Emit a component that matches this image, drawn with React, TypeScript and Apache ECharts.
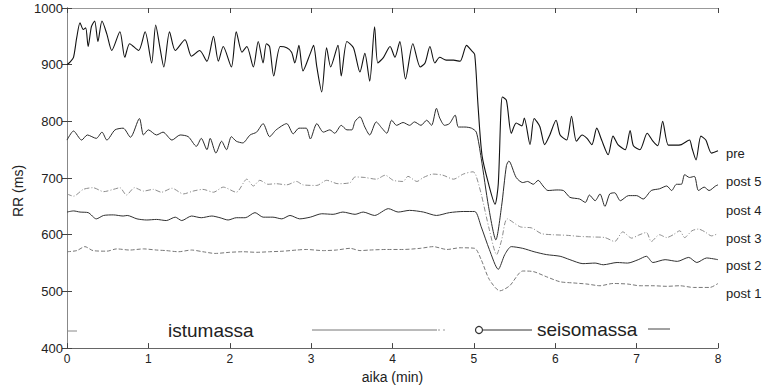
import React, { useEffect, useRef } from "react";
import * as echarts from "echarts";

// time (min) / RR (ms) pairs
const pre: number[][] = [
  [0, 900], [0.04, 905], [0.08, 913], [0.12, 948], [0.16, 974], [0.2, 962], [0.23, 965], [0.26, 932],
  [0.3, 967], [0.34, 977], [0.38, 941], [0.43, 977], [0.49, 954], [0.55, 925], [0.65, 958], [0.71, 913],
  [0.77, 937], [0.88, 925], [0.96, 958], [1.04, 903], [1.09, 970], [1.14, 932], [1.19, 896], [1.26, 958],
  [1.33, 925], [1.45, 944], [1.53, 915], [1.63, 925], [1.72, 906], [1.8, 950], [1.86, 906], [1.92, 932],
  [2.02, 896], [2.08, 958], [2.15, 922], [2.21, 932], [2.29, 896], [2.35, 941], [2.41, 903], [2.45, 937],
  [2.49, 932], [2.54, 880], [2.62, 932], [2.7, 930], [2.76, 922], [2.8, 903], [2.85, 934], [2.9, 889],
  [2.99, 920], [3.03, 934], [3.07, 896], [3.13, 852], [3.19, 930], [3.24, 896], [3.33, 934], [3.37, 880],
  [3.44, 941], [3.52, 930], [3.6, 887], [3.66, 920], [3.72, 871], [3.78, 967], [3.82, 903], [3.89, 913],
  [3.97, 932], [4.03, 913], [4.09, 941], [4.16, 875], [4.25, 937], [4.34, 896], [4.4, 903], [4.46, 932],
  [4.52, 903], [4.58, 913], [4.66, 908], [4.75, 908], [4.83, 906], [4.91, 934], [4.97, 925], [5.01, 918],
  [5.05, 830], [5.1, 740], [5.18, 690], [5.26, 654], [5.3, 690], [5.33, 810], [5.35, 843], [5.4, 837],
  [5.46, 779], [5.52, 797], [5.59, 792], [5.62, 806], [5.69, 759], [5.74, 805], [5.81, 791], [5.87, 759],
  [5.93, 775], [6.01, 802], [6.06, 776], [6.14, 767], [6.2, 809], [6.26, 765], [6.33, 776], [6.39, 770],
  [6.45, 759], [6.51, 788], [6.57, 767], [6.65, 741], [6.71, 774], [6.77, 759], [6.86, 750], [6.92, 784],
  [6.96, 757], [7.04, 750], [7.13, 779], [7.2, 765], [7.26, 757], [7.32, 800], [7.39, 758], [7.47, 758],
  [7.55, 759], [7.65, 767], [7.68, 753], [7.73, 732], [7.79, 774], [7.85, 767], [7.92, 744], [8.0, 748],
];

const post5: number[][] = [
  [0, 767], [0.08, 783], [0.18, 767], [0.25, 776], [0.36, 770], [0.43, 781], [0.49, 767], [0.59, 785],
  [0.69, 788], [0.78, 772], [0.89, 805], [0.94, 776], [1.0, 785], [1.1, 776], [1.18, 781], [1.29, 767],
  [1.39, 776], [1.49, 773], [1.59, 756], [1.65, 770], [1.72, 750], [1.76, 770], [1.83, 744], [1.9, 765],
  [1.96, 750], [2.02, 773], [2.08, 765], [2.16, 762], [2.25, 776], [2.33, 781], [2.41, 796], [2.49, 773],
  [2.57, 785], [2.7, 796], [2.78, 778], [2.85, 788], [2.94, 788], [2.99, 769], [3.07, 796], [3.15, 781],
  [3.23, 785], [3.29, 779], [3.37, 793], [3.44, 785], [3.5, 785], [3.54, 800], [3.6, 808], [3.66, 790],
  [3.72, 776], [3.8, 799], [3.87, 788], [3.93, 779], [3.99, 802], [4.05, 793], [4.13, 798], [4.21, 793],
  [4.27, 799], [4.35, 793], [4.42, 802], [4.48, 793], [4.54, 823], [4.58, 806], [4.64, 793], [4.7, 796],
  [4.77, 811], [4.81, 790], [4.89, 790], [4.97, 788], [5.03, 781], [5.09, 735], [5.18, 650], [5.27, 591],
  [5.34, 650], [5.4, 722], [5.43, 730], [5.52, 701], [5.6, 692], [5.66, 694], [5.73, 689], [5.79, 696],
  [5.85, 686], [5.91, 678], [6.02, 679], [6.1, 678], [6.18, 666], [6.3, 663], [6.37, 657], [6.42, 670],
  [6.49, 660], [6.55, 672], [6.61, 650], [6.67, 672], [6.73, 674], [6.8, 660], [6.9, 669], [7.0, 669],
  [7.08, 663], [7.18, 678], [7.28, 681], [7.37, 686], [7.43, 678], [7.49, 689], [7.55, 689], [7.59, 706],
  [7.65, 701], [7.71, 703], [7.76, 678], [7.83, 684], [7.89, 678], [7.97, 686], [8.0, 688],
];

const post3: number[][] = [
  [0, 672], [0.08, 668], [0.2, 680], [0.32, 683], [0.45, 676], [0.57, 680], [0.65, 683], [0.73, 670],
  [0.83, 683], [0.94, 677], [1.06, 680], [1.16, 675], [1.29, 682], [1.43, 672], [1.55, 677], [1.67, 680],
  [1.8, 675], [1.92, 684], [2.08, 675], [2.21, 698], [2.29, 686], [2.37, 696], [2.47, 689], [2.57, 690],
  [2.7, 688], [2.82, 694], [2.9, 688], [3.07, 687], [3.19, 696], [3.33, 690], [3.48, 692], [3.54, 702],
  [3.66, 701], [3.8, 698], [3.91, 705], [4.01, 696], [4.13, 694], [4.19, 703], [4.3, 694], [4.38, 701],
  [4.5, 707], [4.62, 705], [4.75, 698], [4.87, 707], [4.99, 711], [5.02, 707], [5.09, 672], [5.19, 609],
  [5.28, 565], [5.34, 590], [5.41, 628], [5.57, 614], [5.71, 612], [5.83, 602], [5.97, 600], [6.14, 599],
  [6.3, 597], [6.47, 596], [6.61, 595], [6.73, 588], [6.83, 605], [6.94, 594], [7.02, 599], [7.12, 604],
  [7.18, 588], [7.28, 600], [7.37, 595], [7.45, 600], [7.53, 607], [7.59, 595], [7.68, 607], [7.76, 610],
  [7.84, 605], [7.92, 598], [8.0, 602],
];

const post2: number[][] = [
  [0, 640], [0.08, 642], [0.16, 640], [0.26, 639], [0.36, 628], [0.45, 634], [0.57, 635], [0.69, 633],
  [0.74, 634], [0.86, 628], [0.98, 626], [1.1, 627], [1.22, 625], [1.33, 631], [1.41, 625], [1.53, 633],
  [1.65, 630], [1.78, 633], [1.88, 630], [1.98, 626], [2.08, 630], [2.19, 630], [2.31, 639], [2.41, 631],
  [2.53, 631], [2.64, 628], [2.74, 634], [2.86, 628], [2.99, 631], [3.13, 637], [3.27, 636], [3.39, 640],
  [3.54, 636], [3.64, 640], [3.78, 634], [3.95, 646], [4.07, 640], [4.21, 643], [4.38, 640], [4.54, 634],
  [4.7, 639], [4.87, 641], [5.01, 641], [5.09, 614], [5.19, 574], [5.3, 539], [5.38, 565], [5.46, 579],
  [5.6, 576], [5.74, 570], [5.89, 565], [6.06, 562], [6.18, 556], [6.34, 549], [6.49, 550], [6.59, 547],
  [6.76, 551], [6.89, 550], [7.02, 556], [7.12, 562], [7.2, 551], [7.35, 556], [7.5, 553], [7.64, 560],
  [7.74, 551], [7.86, 559], [8.0, 556],
];

const post1: number[][] = [
  [0, 570], [0.12, 572], [0.22, 579], [0.32, 572], [0.49, 571], [0.61, 575], [0.77, 573], [0.94, 575],
  [1.1, 573], [1.22, 572], [1.37, 570], [1.53, 573], [1.67, 570], [1.82, 567], [2.0, 569], [2.16, 570],
  [2.33, 569], [2.49, 570], [2.66, 571], [2.82, 573], [2.94, 574], [3.15, 572], [3.31, 573], [3.48, 576],
  [3.6, 572], [3.72, 573], [3.93, 574], [4.13, 574], [4.34, 576], [4.5, 579], [4.67, 574], [4.83, 577],
  [5.01, 576], [5.09, 556], [5.19, 521], [5.32, 501], [5.44, 510], [5.6, 536], [5.73, 535], [5.89, 526],
  [6.06, 517], [6.22, 515], [6.39, 513], [6.55, 510], [6.71, 514], [6.89, 513], [7.04, 510], [7.2, 510],
  [7.37, 509], [7.53, 510], [7.7, 507], [7.9, 507], [8.0, 514],
];

const rightLabels = ["pre", "post 5", "post 4", "post 3", "post 2", "post 1"];
const rightLabelValues = [744, 694, 643, 593, 546, 497];

const FONT = "'Liberation Sans', Arial, Helvetica, sans-serif";

export default function App() {
  const ref = useRef<HTMLDivElement>(null);
  useEffect(() => {
    if (!ref.current) return;
    const chart = echarts.init(ref.current, undefined, { renderer: "svg" });
    const axisBase = {
      type: "value" as const,
      splitLine: { show: false },
      axisTick: { inside: true, length: 5, lineStyle: { color: "#444" } },
    };
    const option: any = {
      animation: false,
      backgroundColor: "#fff",
      textStyle: { fontFamily: FONT },
      grid: { left: 67, right: 50, top: 8, bottom: 36 },
      xAxis: [
        {
          ...axisBase,
          min: 0, max: 8, interval: 1, position: "bottom",
          axisLine: { lineStyle: { color: "#666", width: 1 } },
          axisLabel: { fontSize: 12, color: "#222", margin: 5, fontFamily: FONT },
          name: "aika (min)", nameLocation: "middle", nameGap: 18,
          nameTextStyle: { fontSize: 14, color: "#222", fontFamily: FONT },
        },
        {
          ...axisBase,
          min: 0, max: 8, interval: 1, position: "top",
          axisLine: { lineStyle: { color: "#999", width: 1 } },
          axisLabel: { show: false },
        },
      ],
      yAxis: [
        {
          ...axisBase,
          min: 400, max: 1000, interval: 100, position: "left",
          axisLine: { show: true, lineStyle: { color: "#222", width: 1 } },
          axisLabel: { fontSize: 13, color: "#222", margin: 4, fontFamily: FONT, formatter: (v: number) => String(v) },
        },
        {
          ...axisBase,
          min: 400, max: 1000, interval: 100, position: "right",
          axisLine: { show: true, lineStyle: { color: "#888", width: 1 } },
          axisLabel: { show: false },
        },
      ],
      series: [
        { name: "pre", data: pre, lineStyle: { color: "#111", width: 1.1 } },
        { name: "post 5", data: post5, lineStyle: { color: "#2a2a2a", width: 1 } },
        { name: "post 3", data: post3, lineStyle: { color: "#8c8c8c", width: 1, type: [5, 2, 1, 2] } },
        { name: "post 2", data: post2, lineStyle: { color: "#303030", width: 1 } },
        { name: "post 1", data: post1, lineStyle: { color: "#777", width: 1, type: [4, 2] } },
      ].map((s) => ({ ...s, type: "line", showSymbol: false, symbol: "none", smooth: 0.25, xAxisIndex: 0, yAxisIndex: 0 })),
      graphic: [],
    };
    chart.setOption(option);

    const g: any[] = [];
    g.push({
      type: "text", x: 18, y: 191, rotation: Math.PI / 2,
      style: { text: "RR (ms)", fill: "#222", font: `14px ${FONT}`, align: "center", verticalAlign: "middle" },
    });
    rightLabels.forEach((lab, i) => {
      const py = chart.convertToPixel({ yAxisIndex: 0 }, rightLabelValues[i]) as number;
      g.push({
        type: "text", x: 726, y: py,
        style: { text: lab, font: `13px ${FONT}`, fill: "#222", align: "left", verticalAlign: "middle" },
      });
    });
    // phase annotations
    g.push({ type: "text", x: 168, y: 330, style: { text: "istumassa", font: `19px ${FONT}`, fill: "#222", align: "left", verticalAlign: "middle" } });
    g.push({ type: "line", shape: { x1: 312, y1: 330, x2: 437, y2: 330 }, style: { stroke: "#777", lineWidth: 1 } });
    g.push({ type: "line", shape: { x1: 438, y1: 330, x2: 448, y2: 330 }, style: { stroke: "#999", lineWidth: 1, lineDash: [2, 3] } });
    g.push({ type: "circle", shape: { cx: 479, cy: 330, r: 3.5 }, style: { fill: "none", stroke: "#333", lineWidth: 1.2 } });
    g.push({ type: "line", shape: { x1: 483, y1: 330, x2: 532, y2: 330 }, style: { stroke: "#333", lineWidth: 1 } });
    g.push({ type: "text", x: 537, y: 329, style: { text: "seisomassa", font: `19px ${FONT}`, fill: "#222", align: "left", verticalAlign: "middle" } });
    g.push({ type: "line", shape: { x1: 648, y1: 329, x2: 670, y2: 329 }, style: { stroke: "#444", lineWidth: 1 } });
    g.push({ type: "line", shape: { x1: 68, y1: 331, x2: 77, y2: 331 }, style: { stroke: "#888", lineWidth: 1 } });
    chart.setOption({ graphic: g });

    return () => chart.dispose();
  }, []);
  return (
    <div
      ref={ref}
      style={{ position: "fixed", left: 0, top: 0, width: 768, height: 389, background: "#fff" }}
    />
  );
}
